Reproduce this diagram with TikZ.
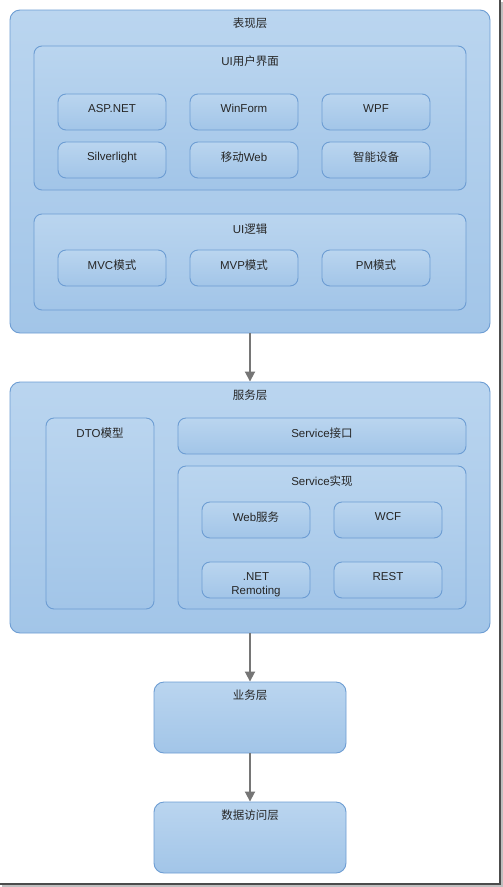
\documentclass[tikz,border=0pt]{standalone}
\usepackage{fontspec}
\setmainfont{Liberation Sans}
\newfontfamily\zhfont{Noto Sans CJK SC}
\newcommand\zh[1]{{\zhfont #1}}
\usetikzlibrary{arrows.meta}

\definecolor{blkline}{HTML}{6D9DD3}
\definecolor{blktop}{HTML}{BAD5EF}
\definecolor{blkbot}{HTML}{A2C5E8}
\definecolor{flowgray}{HTML}{767676}

\tikzset{
	blk/.style={draw=blkline, line width=0.9pt, rounded corners=8pt,
		top color=blktop, bottom color=blkbot, inner sep=0pt},
	layer/.style={blk, rounded corners=10pt},
	ttl/.style={anchor=north, inner sep=0pt, yshift=-10.5pt, align=center,
		text=black!85, font=\fontsize{11.5}{14}\selectfont},
	lttl/.style={ttl, yshift=2pt},
	btn/.style={blk, minimum width=108pt, minimum height=36pt},
	flow/.style={draw=flowgray, line width=1.8pt,
		-{Triangle[width=10pt,length=10pt]}},
}

\begin{document}
\begin{tikzpicture}[x=1pt, y=-1pt]%[minimum width=40]
	\useasboundingbox (0,0) rectangle (503,887);
	\fill[white] (0,0) rectangle (503,887);
	\draw[black!25, line width=2pt] (502,2) -- (502,886) -- (2,886);
	\draw[black!70, line width=1.2pt] (500,0) -- (500,884) -- (0,884);
	% presentation layer
	\node[layer, minimum width=480pt, minimum height=323pt,
		label={[lttl]north:\zh{表现层}}] (pres) at (250,171.5) {};
	\node[blk, minimum width=432pt, minimum height=144pt,
		label={[ttl]north:UI\zh{用户界面}}] (ui) at (250,118) {};
	\node[btn, label={[ttl]north:ASP.NET}] (asp) at (112,112) {};
	\node[btn, label={[ttl]north:WinForm}] (winform) at (244,112) {};
	\node[btn, label={[ttl]north:WPF}] (wpf) at (376,112) {};
	\node[btn, label={[ttl]north:Silverlight}] (silver) at (112,160) {};
	\node[btn, label={[ttl]north:\zh{移动}Web}] (mobile) at (244,160) {};
	\node[btn, label={[ttl]north:\zh{智能设备}}] (device) at (376,160) {};
	\node[blk, minimum width=432pt, minimum height=96pt,
		label={[ttl]north:UI\zh{逻辑}}] (uilogic) at (250,262) {};
	\node[btn, label={[ttl]north:MVC\zh{模式}}] (mvc) at (112,268) {};
	\node[btn, label={[ttl]north:MVP\zh{模式}}] (mvp) at (244,268) {};
	\node[btn, label={[ttl]north:PM\zh{模式}}] (pm) at (376,268) {};
	% service layer
	\node[layer, minimum width=480pt, minimum height=251pt,
		label={[lttl]north:\zh{服务层}}] (svc) at (250,507.5) {};
	\node[blk, minimum width=108pt, minimum height=191pt,
		label={[ttl]north:DTO\zh{模型}}] (dto) at (100,513.5) {};
	\node[blk, minimum width=288pt, minimum height=36pt,
		label={[ttl]north:Service\zh{接口}}] (iface) at (322,436) {};
	\node[blk, minimum width=288pt, minimum height=143pt,
		label={[ttl]north:Service\zh{实现}}] (impl) at (322,537.5) {};
	\node[btn, label={[ttl]north:Web\zh{服务}}] (websvc) at (256,520) {};
	\node[btn, label={[ttl]north:WCF}] (wcf) at (388,520) {};
	\node[btn, label={[ttl]north:.NET\\Remoting}] (remoting) at (256,580) {};
	\node[btn, label={[ttl]north:REST}] (rest) at (388,580) {};
	% business and data access
	\node[layer, minimum width=192pt, minimum height=71pt,
		label={[lttl]north:\zh{业务层}}] (biz) at (250,717.5) {};
	\node[layer, minimum width=192pt, minimum height=71pt,
		label={[lttl]north:\zh{数据访问层}}] (dal) at (250,837.5) {};
	\draw[flow] (pres) -- (svc);
	\draw[flow] (svc) -- (biz);
	\draw[flow] (biz) -- (dal);
\end{tikzpicture}
\end{document}
